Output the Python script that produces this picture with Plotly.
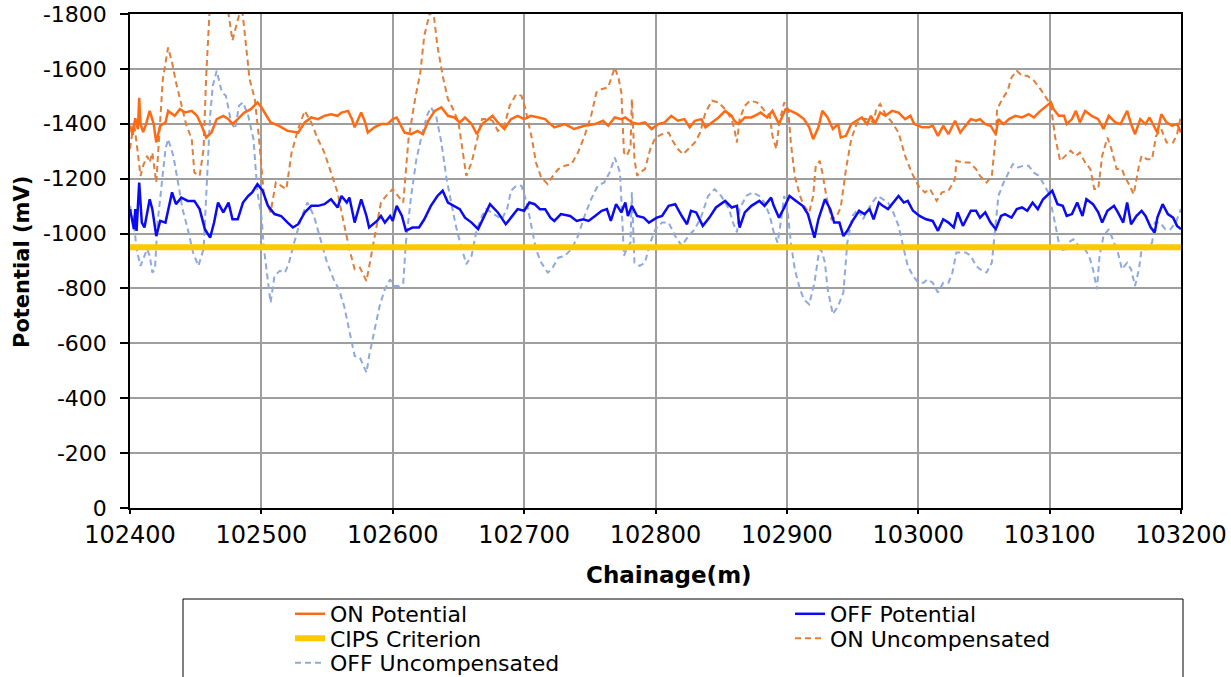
import plotly.graph_objects as go

# ---------------- data ----------------
X_RANGE = [102400, 103200]
X_TICKS = [102400, 102500, 102600, 102700, 102800, 102900, 103000, 103100, 103200]
Y_TICKS = [-1800, -1600, -1400, -1200, -1000, -800, -600, -400, -200, 0]
Y_TICK_LABELS = ["-1800", "-1600", "-1400", "-1200", "-1000", "-800", "-600", "-400", "-200", "0"]

on_x = [102400, 102402, 102404, 102406, 102407, 102408, 102410, 102412, 102415, 102418, 102420, 102423,
        102427, 102429, 102434, 102438, 102442, 102447, 102451, 102454, 102458, 102462, 102466, 102471,
        102475, 102478, 102482, 102487, 102492, 102497, 102500, 102504, 102507, 102513, 102520, 102528,
        102533, 102538, 102543, 102548, 102553, 102558, 102561, 102566, 102569, 102571, 102576, 102579,
        102581, 102586, 102591, 102596, 102600, 102603, 102605, 102609, 102614, 102619, 102623, 102627,
        102632, 102637, 102642, 102647, 102651, 102655, 102660, 102664, 102668, 102673, 102676, 102680,
        102685, 102690, 102695, 102700, 102705, 102711, 102716, 102720, 102723, 102731, 102738, 102746,
        102754, 102760, 102764, 102769, 102774, 102777, 102782, 102787, 102792, 102797, 102802, 102807,
        102812, 102817, 102822, 102826, 102830, 102835, 102838, 102843, 102848, 102853, 102858, 102860,
        102863, 102868, 102873, 102878, 102880, 102885, 102889, 102894, 102899, 102903, 102908, 102913,
        102917, 102920, 102924, 102927, 102931, 102935, 102939, 102941, 102945, 102949, 102953, 102957,
        102961, 102964, 102967, 102971, 102975, 102980, 102985, 102990, 102994, 102997, 103003, 103008,
        103011, 103015, 103019, 103023, 103028, 103032, 103035, 103040, 103044, 103047, 103051, 103055,
        103059, 103061, 103065, 103069, 103074, 103079, 103084, 103088, 103093, 103098, 103101, 103103,
        103107, 103111, 103113, 103117, 103120, 103123, 103127, 103132, 103137, 103141, 103145, 103150,
        103154, 103159, 103162, 103165, 103169, 103173, 103176, 103182, 103185, 103189, 103193, 103197,
        103200]
on_y = [-1393, -1360, -1420, -1380, -1495, -1400, -1370, -1395, -1447, -1400, -1332, -1393,
        -1405, -1447, -1429, -1453, -1441, -1447, -1429, -1399, -1350, -1368, -1417, -1429,
        -1417, -1399, -1417, -1441, -1453, -1478, -1460, -1429, -1405, -1393, -1374, -1368,
        -1405, -1423, -1417, -1429, -1435, -1429, -1441, -1447, -1417, -1387, -1441, -1405,
        -1368, -1387, -1399, -1399, -1417, -1423, -1405, -1368, -1362, -1374, -1362, -1411,
        -1447, -1460, -1429, -1423, -1405, -1423, -1399, -1362, -1399, -1417, -1429, -1405,
        -1381, -1417, -1429, -1417, -1429, -1423, -1417, -1399, -1387, -1399, -1381, -1393,
        -1399, -1411, -1393, -1423, -1417, -1423, -1405, -1399, -1405, -1381, -1399, -1405,
        -1429, -1411, -1417, -1387, -1411, -1417, -1387, -1405, -1423, -1447, -1429, -1411,
        -1399, -1423, -1423, -1435, -1441, -1423, -1447, -1399, -1453, -1447, -1435, -1417,
        -1387, -1344, -1387, -1447, -1423, -1381, -1399, -1350, -1356, -1399, -1411, -1423,
        -1399, -1429, -1399, -1441, -1429, -1447, -1441, -1417, -1429, -1399, -1387, -1387,
        -1393, -1356, -1393, -1362, -1411, -1368, -1387, -1417, -1411, -1417, -1399, -1393,
        -1362, -1417, -1399, -1417, -1429, -1423, -1435, -1423, -1447, -1466, -1478, -1453,
        -1429, -1429, -1399, -1417, -1447, -1405, -1447, -1429, -1417, -1381, -1429, -1405,
        -1399, -1447, -1399, -1362, -1417, -1399, -1423, -1368, -1435, -1405, -1393, -1399,
        -1368]

off_x = [102400, 102403, 102404, 102405, 102407, 102409, 102411, 102415, 102417, 102420, 102423, 102427,
         102432, 102435, 102439, 102444, 102449, 102453, 102457, 102461, 102464, 102467, 102471, 102475,
         102478, 102482, 102486, 102490, 102493, 102497, 102501, 102505, 102510, 102515, 102520, 102524,
         102528, 102533, 102538, 102543, 102548, 102553, 102558, 102561, 102565, 102567, 102571, 102576,
         102580, 102582, 102588, 102591, 102594, 102598, 102600, 102603, 102607, 102610, 102615, 102620,
         102624, 102629, 102634, 102638, 102642, 102647, 102651, 102655, 102660, 102665, 102670, 102674,
         102680, 102686, 102690, 102695, 102700, 102704, 102708, 102712, 102716, 102720, 102723, 102728,
         102735, 102740, 102745, 102749, 102754, 102759, 102763, 102766, 102770, 102774, 102777, 102779,
         102782, 102786, 102791, 102795, 102801, 102805, 102810, 102815, 102820, 102824, 102827, 102831,
         102836, 102841, 102846, 102853, 102858, 102862, 102864, 102868, 102873, 102877, 102879, 102883,
         102888, 102890, 102894, 102898, 102902, 102907, 102912, 102916, 102919, 102921, 102924, 102929,
         102933, 102936, 102940, 102943, 102946, 102950, 102955, 102959, 102963, 102966, 102970, 102973,
         102977, 102981, 102985, 102989, 102992, 102996, 103001, 103006, 103011, 103015, 103019, 103023,
         103027, 103030, 103034, 103040, 103044, 103047, 103051, 103055, 103059, 103063, 103066, 103071,
         103075, 103079, 103083, 103087, 103091, 103095, 103099, 103102, 103106, 103110, 103113, 103117,
         103121, 103125, 103128, 103133, 103137, 103140, 103144, 103149, 103152, 103156, 103159, 103162,
         103166, 103170, 103173, 103177, 103180, 103182, 103186, 103190, 103194, 103197, 103200]
off_y = [-1089, -1016, -1089, -1010, -1186, -1040, -1022, -1125, -1089, -991, -1046, -1040,
         -1150, -1107, -1131, -1119, -1119, -1089, -1016, -985, -1040, -1113, -1077, -1113,
         -1052, -1052, -1113, -1137, -1150, -1180, -1156, -1101, -1071, -1064, -1040, -1022,
         -1034, -1077, -1101, -1101, -1107, -1125, -1095, -1137, -1113, -1131, -1040, -1125,
         -1064, -1022, -1046, -1064, -1040, -1064, -1046, -1101, -1064, -1010, -1022, -1022,
         -1052, -1101, -1137, -1156, -1113, -1101, -1089, -1058, -1040, -1016, -1064, -1107,
         -1077, -1034, -1058, -1089, -1083, -1113, -1107, -1089, -1089, -1058, -1046, -1071,
         -1064, -1046, -1052, -1046, -1064, -1083, -1089, -1046, -1107, -1077, -1113, -1064,
         -1101, -1064, -1058, -1040, -1058, -1064, -1101, -1107, -1064, -1034, -1083, -1077,
         -1028, -1058, -1095, -1119, -1095, -1101, -1022, -1077, -1101, -1113, -1119, -1101,
         -1131, -1101, -1058, -1095, -1137, -1119, -1101, -1071, -1016, -985, -1052, -1125,
         -1089, -1040, -1040, -991, -1010, -1046, -1083, -1071, -1089, -1052, -1113, -1101,
         -1089, -1113, -1137, -1113, -1119, -1083, -1064, -1052, -1046, -1010, -1052, -1040,
         -1022, -1077, -1028, -1083, -1083, -1058, -1077, -1040, -1016, -1064, -1071, -1058,
         -1089, -1095, -1083, -1113, -1089, -1125, -1143, -1156, -1107, -1101, -1064, -1071,
         -1113, -1064, -1125, -1107, -1077, -1040, -1083, -1101, -1077, -1040, -1113, -1034,
         -1064, -1083, -1064, -1022, -1004, -1058, -1107, -1071, -1058, -1028, -1016]

cips_x = [102400, 103200]
cips_y = [-950, -950]

onu_x = [102400, 102403, 102405, 102408, 102410, 102413, 102415, 102417, 102420, 102423, 102425, 102429,
         102432, 102435, 102439, 102443, 102447, 102449, 102453, 102456, 102458, 102461, 102465, 102470,
         102475, 102478, 102481, 102483, 102485, 102487, 102491, 102495, 102498, 102502, 102507, 102511,
         102515, 102519, 102523, 102528, 102533, 102538, 102543, 102548, 102553, 102558, 102560, 102563,
         102567, 102571, 102575, 102580, 102584, 102588, 102591, 102596, 102600, 102604, 102608, 102612,
         102617, 102621, 102624, 102628, 102631, 102634, 102638, 102642, 102646, 102650, 102653, 102656,
         102660, 102664, 102668, 102673, 102676, 102680, 102685, 102689, 102694, 102698, 102701, 102706,
         102709, 102713, 102718, 102721, 102726, 102731, 102736, 102741, 102746, 102751, 102755, 102759,
         102764, 102769, 102772, 102774, 102776, 102778, 102781, 102782, 102784, 102786, 102788, 102792,
         102796, 102800, 102805, 102810, 102813, 102817, 102821, 102825, 102830, 102834, 102838, 102843,
         102848, 102853, 102858, 102860, 102862, 102864, 102868, 102872, 102877, 102879, 102883, 102887,
         102889, 102892, 102894, 102898, 102901, 102903, 102906, 102910, 102913, 102917, 102920, 102922,
         102925, 102927, 102930, 102934, 102938, 102941, 102945, 102949, 102953, 102957, 102962, 102966,
         102968, 102971, 102975, 102980, 102985, 102990, 102995, 103000, 103005, 103009, 103014, 103018,
         103023, 103028, 103029, 103034, 103039, 103044, 103047, 103052, 103056, 103059, 103060, 103064,
         103068, 103071, 103075, 103079, 103083, 103088, 103093, 103098, 103101, 103104, 103108, 103112,
         103116, 103120, 103123, 103127, 103131, 103134, 103137, 103140, 103144, 103147, 103151, 103155,
         103157, 103161, 103164, 103168, 103170, 103174, 103178, 103181, 103185, 103189, 103194, 103197,
         103200]
onu_y = [-1308, -1405, -1332, -1210, -1247, -1283, -1259, -1295, -1186, -1405, -1563, -1678,
         -1624, -1551, -1466, -1393, -1344, -1222, -1210, -1308, -1575, -1850, -1960, -1920,
         -1800, -1703, -1760, -1800, -1830, -1745, -1563, -1490, -1356, -1137, -1077, -1186,
         -1174, -1162, -1295, -1381, -1447, -1405, -1344, -1295, -1222, -1150, -1101, -1028,
         -943, -870, -876, -827, -931, -1040, -1113, -1143, -1162, -1137, -1113, -1344,
         -1490, -1587, -1721, -1800, -1805, -1684, -1575, -1490, -1453, -1405, -1308, -1210,
         -1259, -1344, -1417, -1417, -1411, -1374, -1393, -1466, -1508, -1502, -1453, -1344,
         -1259, -1204, -1180, -1204, -1235, -1247, -1253, -1295, -1356, -1429, -1514, -1526,
         -1533, -1605, -1563, -1514, -1295, -1283, -1314, -1490, -1271, -1210, -1222, -1235,
         -1308, -1350, -1362, -1368, -1338, -1308, -1289, -1308, -1332, -1368, -1441, -1484,
         -1478, -1453, -1417, -1381, -1332, -1417, -1466, -1484, -1478, -1472, -1447, -1429,
         -1356, -1308, -1399, -1478, -1453, -1332, -1210, -1137, -1101, -1077, -1137, -1247,
         -1265, -1222, -1137, -1052, -1064, -1095, -1235, -1344, -1399, -1417, -1417, -1405,
         -1453, -1472, -1435, -1405, -1368, -1283, -1222, -1174, -1150, -1162, -1119, -1150,
         -1156, -1198, -1265, -1259, -1259, -1235, -1210, -1186, -1210, -1356, -1453, -1490,
         -1520, -1569, -1593, -1575, -1575, -1557, -1526, -1490, -1466, -1356, -1265, -1283,
         -1302, -1283, -1295, -1259, -1235, -1162, -1162, -1283, -1350, -1308, -1235, -1235,
         -1210, -1174, -1143, -1247, -1283, -1271, -1271, -1356, -1381, -1332, -1332, -1362,
         -1429]

offu_x = [102400, 102403, 102405, 102408, 102410, 102413, 102415, 102417, 102419, 102421, 102424, 102427,
          102429, 102433, 102437, 102440, 102444, 102448, 102452, 102456, 102458, 102461, 102463, 102466,
          102470, 102473, 102477, 102480, 102483, 102486, 102490, 102494, 102497, 102500, 102502, 102505,
          102507, 102510, 102514, 102518, 102521, 102525, 102530, 102535, 102540, 102545, 102550, 102555,
          102559, 102563, 102567, 102571, 102575, 102578, 102580, 102582, 102586, 102590, 102594, 102598,
          102601, 102605, 102608, 102610, 102614, 102618, 102622, 102626, 102629, 102633, 102637, 102641,
          102645, 102648, 102652, 102656, 102660, 102664, 102668, 102671, 102675, 102679, 102683, 102687,
          102690, 102694, 102698, 102702, 102706, 102709, 102713, 102718, 102721, 102726, 102731, 102736,
          102741, 102746, 102751, 102756, 102761, 102765, 102769, 102773, 102776, 102778, 102781, 102782,
          102784, 102788, 102792, 102796, 102800, 102805, 102810, 102815, 102820, 102825, 102830, 102835,
          102840, 102845, 102850, 102856, 102859, 102862, 102864, 102869, 102874, 102879, 102883, 102887,
          102890, 102893, 102896, 102898, 102901, 102903, 102906, 102910, 102913, 102917, 102921, 102924,
          102926, 102929, 102931, 102935, 102939, 102943, 102946, 102950, 102954, 102958, 102962, 102965,
          102969, 102973, 102977, 102981, 102985, 102989, 102992, 102996, 103000, 103004, 103007, 103011,
          103015, 103019, 103023, 103026, 103029, 103033, 103036, 103040, 103044, 103047, 103052, 103056,
          103059, 103061, 103065, 103069, 103072, 103076, 103080, 103084, 103088, 103092, 103095, 103099,
          103103, 103107, 103111, 103114, 103118, 103122, 103126, 103130, 103133, 103136, 103138, 103141,
          103145, 103149, 103152, 103155, 103159, 103162, 103165, 103168, 103170, 103174, 103178, 103180,
          103184, 103188, 103192, 103196, 103200]
offu_y = [-1101, -1040, -943, -882, -906, -943, -919, -858, -870, -1040, -1174, -1308,
          -1344, -1283, -1174, -1089, -1016, -931, -882, -943, -1137, -1429, -1539, -1593,
          -1514, -1502, -1405, -1381, -1466, -1478, -1429, -1344, -1150, -1064, -943, -821,
          -748, -846, -864, -858, -894, -967, -1052, -1113, -1064, -979, -894, -833,
          -797, -736, -651, -554, -548, -517, -493, -554, -651, -736, -797, -833,
          -809, -809, -821, -967, -1137, -1271, -1356, -1429, -1460, -1429, -1332, -1198,
          -1101, -1028, -955, -888, -919, -1016, -1064, -1089, -1077, -1064, -1052, -1089,
          -1156, -1174, -1174, -1113, -1016, -943, -894, -858, -870, -912, -919, -943,
          -991, -1064, -1125, -1174, -1186, -1222, -1277, -1222, -919, -943, -967, -1150,
          -894, -882, -894, -967, -1016, -1040, -1040, -991, -955, -991, -1016, -1064,
          -1137, -1162, -1137, -1089, -1040, -1004, -1089, -1137, -1150, -1137, -1113, -1064,
          -1004, -967, -1064, -1137, -1064, -967, -870, -797, -760, -742, -821, -919,
          -943, -894, -797, -706, -736, -785, -967, -1064, -1089, -1052, -1089, -1113,
          -1137, -1125, -1113, -1077, -1028, -943, -882, -846, -821, -821, -833, -821,
          -785, -821, -821, -858, -931, -931, -931, -919, -882, -870, -858, -894,
          -1028, -1137, -1186, -1222, -1253, -1241, -1247, -1247, -1222, -1210, -1186, -1150,
          -1064, -967, -931, -967, -979, -955, -949, -919, -870, -797, -919, -991,
          -1016, -967, -931, -870, -894, -870, -809, -870, -943, -943, -967, -1040,
          -1040, -1016, -1016, -1040, -1089]

# ---------------- figure ----------------
W, H = 1231, 677
ML, MR, MT, MB = 130, 50, 14, 169
PW, PH = W - ML - MR, H - MT - MB

FONT = "DejaVu Sans"

fig = go.Figure()
# dashed series first so the solid ones are drawn on top
fig.add_trace(go.Scatter(x=offu_x, y=offu_y, name="OFF Uncompensated", mode="lines",
                         line=dict(color="#8EA9DB", width=2, dash="6px,4px"), legend="legend5"))
fig.add_trace(go.Scatter(x=onu_x, y=onu_y, name="ON Uncompensated", mode="lines",
                         line=dict(color="#E07F3A", width=2, dash="6px,4px"), legend="legend4"))
fig.add_trace(go.Scatter(x=cips_x, y=cips_y, name="CIPS Criterion", mode="lines",
                         line=dict(color="#FFC800", width=6), legend="legend3"))
fig.add_trace(go.Scatter(x=on_x, y=on_y, name="ON Potential", mode="lines",
                         line=dict(color="#FF6A13", width=2.5), legend="legend"))
fig.add_trace(go.Scatter(x=off_x, y=off_y, name="OFF Potential", mode="lines",
                         line=dict(color="#0A0AF5", width=2.5), legend="legend2"))

def leg(col_x, row_y):
    return dict(orientation="v", xref="container", yref="container",
                xanchor="left", yanchor="middle", x=col_x / W, y=1 - row_y / H,
                bgcolor="rgba(0,0,0,0)", borderwidth=0,
                font=dict(family=FONT, size=22, color="#000"), itemwidth=30)

COL1, COL2 = 290, 790
ROW1, ROW2, ROW3 = 614, 638.5, 663

fig.update_layout(
    width=W, height=H,
    margin=dict(l=ML, r=MR, t=MT, b=MB, autoexpand=False),
    paper_bgcolor="white", plot_bgcolor="white",
    font=dict(family=FONT, color="#000"),
    hovermode=False,
    showlegend=True,
    legend=leg(COL1, ROW1),
    legend2=leg(COL2, ROW1),
    legend3=leg(COL1, ROW2),
    legend4=leg(COL2, ROW2),
    legend5=leg(COL1, ROW3),
    xaxis=dict(
        range=X_RANGE, tickvals=X_TICKS, tickformat="d",
        showgrid=True, gridcolor="#9E9E9E", gridwidth=1.5,
        showline=True, linecolor="#000", linewidth=1.5, mirror=True,
        ticks="outside", ticklen=4, tickcolor="#000", tickwidth=1.5,
        ticklabeloverflow="allow",
        tickfont=dict(family=FONT, size=24, color="#000"),
        zeroline=False, automargin=False,
    ),
    yaxis=dict(
        range=[0, -1800], tickvals=Y_TICKS, ticktext=Y_TICK_LABELS,
        showgrid=True, gridcolor="#9E9E9E", gridwidth=1.5,
        showline=True, linecolor="#000", linewidth=1.5, mirror=True,
        ticks="outside", ticklen=8, tickcolor="#000", tickwidth=1.5,
        ticklabelstandoff=9, ticklabeloverflow="allow",
        tickfont=dict(family=FONT, size=22, color="#000"),
        zeroline=False, automargin=False,
    ),
    annotations=[
        dict(text="Potential (mV)", textangle=-90, showarrow=False,
             xref="paper", yref="paper", x=(22 - ML) / PW, y=(MT + PH - 262) / PH,
             xanchor="center", yanchor="middle",
             font=dict(family=FONT, size=21, weight="bold", color="#000")),
        dict(text="Chainage(m)", showarrow=False,
             xref="paper", yref="paper", x=(669 - ML) / PW, y=(MT + PH - 575) / PH,
             xanchor="center", yanchor="middle",
             font=dict(family=FONT, size=23, weight="bold", color="#000")),
    ],
    shapes=[dict(type="rect", xref="paper", yref="paper",
                 x0=(183 - ML) / PW, x1=(1183 - ML) / PW,
                 y0=-0.6, y1=(MT + PH - 599) / PH,
                 line=dict(color="#000", width=1), fillcolor="rgba(0,0,0,0)", layer="above")],
)

# remove the default page margin so the figure fills the window exactly; hide the mode bar
fig.write_html("out.html", config={"displayModeBar": False},
               post_script="document.body.style.margin='0';")
